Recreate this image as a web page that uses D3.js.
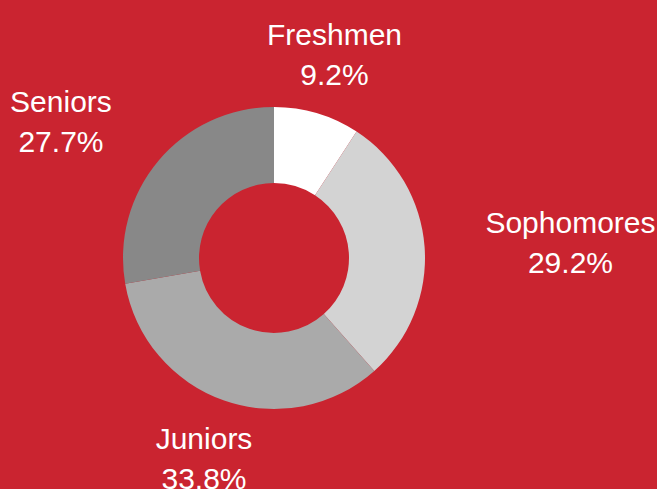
<!DOCTYPE html>
<html>
<head>
<meta charset="utf-8">
<script src="https://cdn.jsdelivr.net/npm/d3@7"></script>
<style>
  html, body { margin: 0; padding: 0; background: #ca2430; }
  svg { display: block; }
</style>
</head>
<body>
<svg id="chart" width="657" height="489"></svg>
<script>
const categories = ["Freshmen", "Sophomores", "Juniors", "Seniors"];
const values = [9.2, 29.2, 33.8, 27.7];
const colors = ["#ffffff", "#d3d3d3", "#aaaaaa", "#888888"];

const W = 657, H = 489;
const cx = 274, cy = 258;
const outerR = 151, innerR = 75, labelR = 212;

const svg = d3.select("#chart");
svg.append("rect").attr("width", W).attr("height", H).attr("fill", "#ca2430");

const data = categories.map((c, i) => ({ name: c, value: values[i], color: colors[i] }));
const pie = d3.pie().value(d => d.value).sort(null);
const arcs = pie(data);
const arc = d3.arc().innerRadius(innerR).outerRadius(outerR);

const g = svg.append("g").attr("transform", `translate(${cx},${cy})`);
g.selectAll("path").data(arcs).join("path")
  .attr("d", arc)
  .attr("fill", d => d.data.color);

const fmt = d3.format(".1f");
g.selectAll("text.lbl").data(arcs).join("text")
  .attr("class", "lbl")
  .attr("font-family", "'Liberation Sans', Arial, sans-serif")
  .attr("font-size", 30)
  .attr("fill", "#ffffff")
  .attr("text-anchor", "middle")
  .each(function(d) {
    const a = (d.startAngle + d.endAngle) / 2;
    const x = labelR * Math.sin(a);
    const y = -labelR * Math.cos(a);
    const s = Math.sin(a);
    const t = d3.select(this);
    const l1 = t.append("tspan").attr("y", y - 9.5).text(d.data.name);
    const l2 = t.append("tspan").attr("y", y + 30.5).text(fmt(d.data.value) + "%");
    const w = Math.max(l1.node().getComputedTextLength(), l2.node().getComputedTextLength());
    let xc = x;
    if (Math.abs(s) >= 0.5) xc = s > 0 ? x + w / 2 : x - w / 2;
    l1.attr("x", xc);
    l2.attr("x", xc);
  });
</script>
</body>
</html>
